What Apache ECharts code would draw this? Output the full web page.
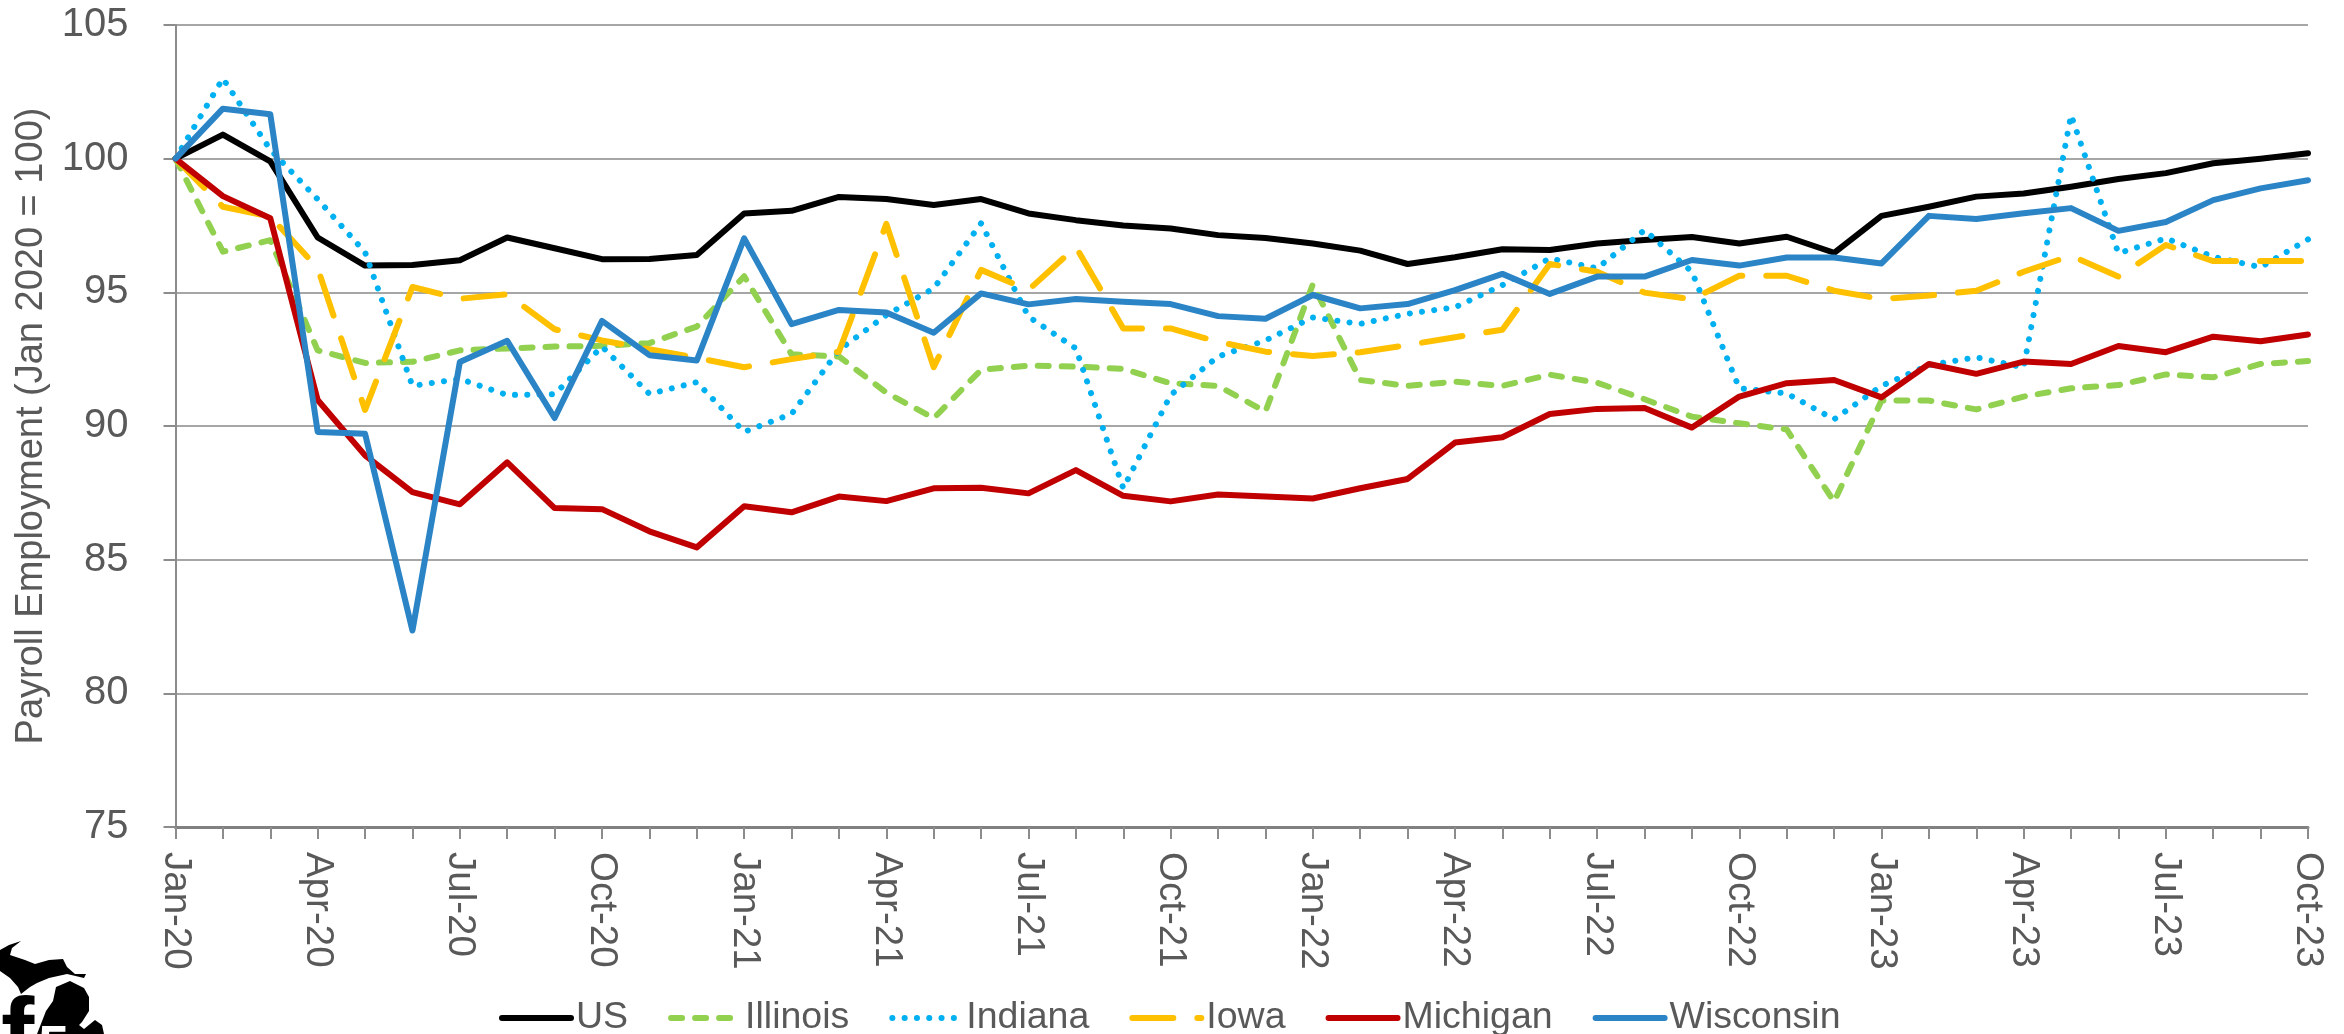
<!DOCTYPE html>
<html>
<head>
<meta charset="utf-8">
<style>html,body{margin:0;padding:0;background:#fff;overflow:hidden}#c{width:2344px;height:1034px}</style>
<script src="https://cdn.jsdelivr.net/npm/echarts@6/dist/echarts.min.js"></script>
</head>
<body>
<div id="c"></div>
<script>
const months = ["Jan-20","Feb-20","Mar-20","Apr-20","May-20","Jun-20","Jul-20","Aug-20","Sep-20","Oct-20","Nov-20","Dec-20",
"Jan-21","Feb-21","Mar-21","Apr-21","May-21","Jun-21","Jul-21","Aug-21","Sep-21","Oct-21","Nov-21","Dec-21",
"Jan-22","Feb-22","Mar-22","Apr-22","May-22","Jun-22","Jul-22","Aug-22","Sep-22","Oct-22","Nov-22","Dec-22",
"Jan-23","Feb-23","Mar-23","Apr-23","May-23","Jun-23","Jul-23","Aug-23","Sep-23","Oct-23"];
const us = [100,100.9,99.9,97.05,96,96.02,96.2,97.05,96.65,96.24,96.25,96.4,97.95,98.05,98.57,98.49,98.27,98.49,97.95,97.7,97.5,97.39,97.14,97.03,96.83,96.56,96.06,96.31,96.61,96.58,96.83,96.96,97.07,96.83,97.08,96.48,97.86,98.2,98.58,98.7,98.95,99.24,99.46,99.83,100.0,100.2];
const illinois = [100,96.52,96.95,92.83,92.36,92.4,92.83,92.9,92.97,93.0,93.1,93.72,95.6,92.68,92.6,91.25,90.29,92.1,92.26,92.22,92.14,91.6,91.5,90.54,95.3,91.72,91.5,91.66,91.5,91.92,91.62,91.0,90.35,90.1,89.87,87.17,90.95,90.95,90.62,91.1,91.41,91.53,91.93,91.82,92.32,92.43];
const indiana = [100,103.0,100.34,98.48,96.5,91.5,91.76,91.16,91.19,92.97,91.2,91.64,89.78,90.45,92.84,94.15,95.15,97.58,94.09,92.9,87.67,91.16,92.6,93.2,94.06,93.82,94.2,94.44,95.27,96.27,95.9,97.33,95.77,91.41,91.22,90.25,91.5,92.28,92.57,92.19,101.63,96.46,97.02,96.33,95.94,96.98];
const iowa = [100,98.2,97.84,95.9,90.6,95.2,94.76,94.93,93.62,93.2,92.87,92.55,92.2,92.5,92.78,97.56,92.2,95.84,95.09,96.7,93.65,93.65,93.15,92.78,92.62,92.76,93.03,93.32,93.6,96.06,95.77,94.99,94.74,95.62,95.62,95.06,94.75,94.88,95.06,95.77,96.37,95.59,96.77,96.17,96.17,96.17];
const michigan = [100,98.6,97.77,90.97,88.9,87.53,87.07,88.64,86.93,86.89,86.06,85.46,87.0,86.77,87.36,87.19,87.67,87.69,87.48,88.35,87.39,87.18,87.44,87.36,87.29,87.67,88.02,89.38,89.58,90.45,90.64,90.67,89.94,91.1,91.6,91.72,91.07,92.32,91.95,92.41,92.32,92.99,92.76,93.34,93.17,93.42];
const wisconsin = [100,101.87,101.66,89.78,89.71,82.35,92.39,93.19,90.3,93.93,92.65,92.45,97.02,93.81,94.34,94.25,93.49,94.96,94.55,94.75,94.65,94.56,94.11,94.01,94.9,94.4,94.56,95.08,95.69,94.94,95.59,95.59,96.21,96.0,96.3,96.3,96.08,97.86,97.74,97.96,98.15,97.3,97.63,98.45,98.89,99.19];
const seriesNames = ["US","Illinois","Indiana","Iowa","Michigan","Wisconsin"];
const seriesData = [us,illinois,indiana,iowa,michigan,wisconsin];
const seriesColors = ["#000000","#92D050","#00B0F0","#FFC000","#C00000","#2A84C6"];
const seriesDash = ["solid",[11,13],[0.1,12.2],[41,24],"solid","solid"];
const yAxisTitle = "Payroll Employment (Jan 2020 = 100)";

const FONT = "Liberation Sans", TXT = "#595959";
const chart = echarts.init(document.getElementById("c"), null, {renderer:"canvas"});
chart.setOption({
  animation:false,
  backgroundColor:"#fff",
  grid:{left:175.5,top:25,right:36,bottom:207,containLabel:false,outerBoundsMode:"none"},
  legend:{
    left:499,top:994,padding:[5,0,0,0],itemWidth:69,itemHeight:6,itemGap:40,
    itemStyle:{opacity:0},
    lineStyle:{width:6,cap:"round"},
    textStyle:{fontFamily:FONT,fontSize:37.5,color:TXT},
    data:seriesNames
  },
  xAxis:{
    type:"category",boundaryGap:false,data:months,
    axisLine:{lineStyle:{color:"#808080",width:3}},
    axisTick:{show:true,interval:0,alignWithLabel:true,length:12,lineStyle:{color:"#8C8C8C",width:2}},
    axisLabel:{interval:2,rotate:-90,margin:25,fontFamily:FONT,fontSize:38.5,color:TXT,hideOverlap:false,
      showMinLabel:true,showMaxLabel:true},
    splitLine:{show:false}
  },
  yAxis:{
    type:"value",min:75,max:105,interval:5,
    name:yAxisTitle,nameLocation:"middle",nameGap:125,nameRotate:90,
    nameTextStyle:{fontFamily:FONT,fontSize:38,color:TXT},
    axisLine:{show:true,lineStyle:{color:"#8C8C8C",width:2}},
    axisTick:{show:true,length:12,lineStyle:{color:"#8C8C8C",width:2}},
    axisLabel:{margin:47,fontFamily:FONT,fontSize:40,color:TXT},
    splitLine:{show:true,lineStyle:{color:"#A6A6A6",width:2}}
  },
  series:seriesNames.map((n,i)=>({
    name:n,type:"line",data:seriesData[i],symbol:"none",smooth:false,
    color:seriesColors[i],
    lineStyle:{color:seriesColors[i],width:6,type:seriesDash[i],cap:"round",join:"round"},
    clip:false,z:2+i
  })),
  graphic:[
    {type:"polygon",silent:true,z:50,shape:{points:[[0,950],[9,945],[21,941],[12,948],[10,955],[25,960],[35,964],[49,960],[63,959],[67,967],[75,974],[86,974],[84,978],[67,974],[49,978],[37,983],[30,987],[21,994],[18,987],[10,978],[0,971]]},style:{fill:"#000"}},
    {type:"polygon",silent:true,z:50,shape:{points:[[56,987],[70,981],[84,988],[89,997],[89,1011],[82,1022],[79,1025],[84,1029],[95,1020],[102,1025],[104,1034],[37,1034],[46,1011],[53,1001]]},style:{fill:"#000"}},
    {type:"text",silent:true,z:51,style:{text:"f",x:1,y:990,font:"bold 100px 'Liberation Sans'",fill:"#000"}},
    {type:"text",silent:true,z:51,style:{text:"5",x:38,y:1021,font:"bold 56px 'Liberation Sans'",fill:"#fff"}}
  ]
});
</script>
</body>
</html>
